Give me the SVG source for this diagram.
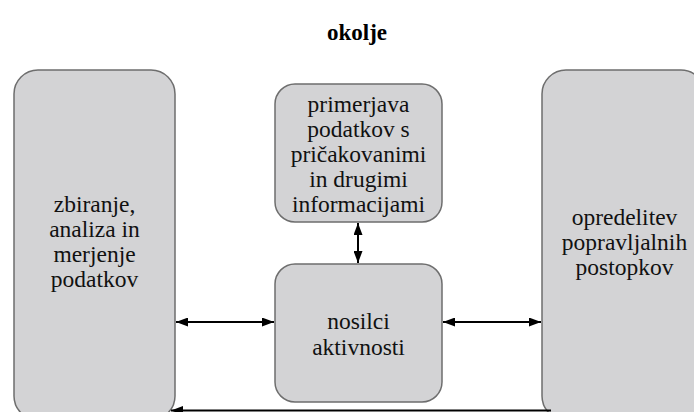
<svg xmlns="http://www.w3.org/2000/svg" width="694" height="412" viewBox="0 0 694 412">
<defs>
<marker id="ah" viewBox="0 0 12 9" refX="12" refY="4.5" markerWidth="12" markerHeight="9" markerUnits="userSpaceOnUse" orient="auto-start-reverse">
<path d="M0,0 L12,4.5 L0,9 Z" fill="#000"/>
</marker>
<style>
.box{fill:#d3d3d5;stroke:#6e6e6e;stroke-width:1.5}
text{font-family:'Liberation Serif','Times New Roman',serif}
.t{font-size:23.5px;fill:#111;text-anchor:middle}
.title{font-size:23px;font-weight:bold;fill:#000;text-anchor:middle}
.c{stroke:#000;stroke-width:2;fill:none}
</style>
</defs>
<rect width="694" height="412" fill="#fff"/>
<text class="title" x="357" y="40">okolje</text>
<g id="zbiranje">
<rect class="box" x="14" y="70" width="161" height="350" rx="24"/>
<text class="t" x="94.5" y="212">zbiranje,</text>
<text class="t" x="94.5" y="237">analiza in</text>
<text class="t" x="94.5" y="262">merjenje</text>
<text class="t" x="94.5" y="287">podatkov</text>
</g>
<g id="primerjava">
<rect class="box" x="275" y="84" width="167" height="138" rx="20"/>
<text class="t" x="358.5" y="112">primerjava</text>
<text class="t" x="358.5" y="137">podatkov s</text>
<text class="t" x="358.5" y="162">pričakovanimi</text>
<text class="t" x="358.5" y="187">in drugimi</text>
<text class="t" x="358.5" y="212">informacijami</text>
</g>
<g id="nosilci">
<rect class="box" x="275" y="264" width="167" height="138" rx="20"/>
<text class="t" x="358.5" y="329">nosilci</text>
<text class="t" x="358.5" y="355">aktivnosti</text>
</g>
<g id="opredelitev">
<rect class="box" x="542" y="70" width="163" height="350" rx="24"/>
<text class="t" x="624.5" y="225">opredelitev</text>
<text class="t" x="624.5" y="250">popravljalnih</text>
<text class="t" x="624.5" y="275">postopkov</text>
</g>
<g id="connectors">
<line class="c" x1="176" y1="322" x2="274" y2="322" marker-start="url(#ah)" marker-end="url(#ah)"/>
<line class="c" x1="443" y1="322" x2="541" y2="322" marker-start="url(#ah)" marker-end="url(#ah)"/>
<line class="c" x1="358" y1="223" x2="358" y2="263" marker-start="url(#ah)" marker-end="url(#ah)"/>
<line class="c" x1="551" y1="410.5" x2="171" y2="410.5" stroke-width="2.5" marker-end="url(#ah)"/>
</g>
</svg>
